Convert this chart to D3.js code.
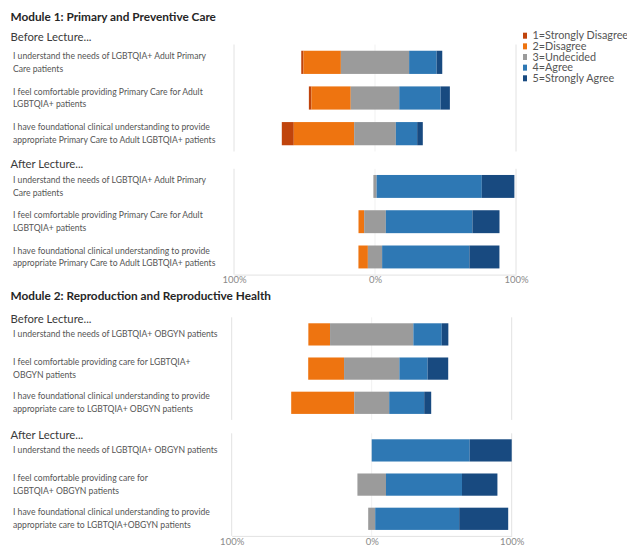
<!DOCTYPE html>
<html>
<head>
<meta charset="utf-8">
<script src="https://cdn.jsdelivr.net/npm/d3@7"></script>
<style>
  html, body { margin: 0; padding: 0; background: #fff; }
  svg { display: block; }
  text { font-family: "Lato", "Open Sans", sans-serif; }
</style>
</head>
<body>
<svg id="chart" width="627" height="546"></svg>
<script>
// ---------- DATA ----------
const levels = ["1=Strongly Disagree", "2=Disagree", "3=Undecided", "4=Agree", "5=Strongly Agree"];
const levelColors = ["#C0440C", "#EE7410", "#9B9B9B", "#2E78B4", "#184A80"];
const axisTicks = [-100, 0, 100];

const moduleTitles = ["Module 1: Primary and Preventive Care", "Module 2: Reproduction and Reproductive Health"];
const phaseTitles = ["Before Lecture...", "After Lecture..."];

const m1BeforeQuestions = [
  ["I understand the needs of LGBTQIA+ Adult Primary", "Care patients"],
  ["I feel comfortable providing Primary Care for Adult", "LGBTQIA+ patients"],
  ["I have foundational clinical understanding to provide", "appropriate Primary Care to Adult LGBTQIA+ patients"]
];
const m1AfterQuestions = m1BeforeQuestions;
const m2BeforeQuestions = [
  ["I understand the needs of LGBTQIA+ OBGYN patients"],
  ["I feel comfortable providing care for LGBTQIA+", "OBGYN patients"],
  ["I have foundational clinical understanding to provide", "appropriate care to LGBTQIA+ OBGYN patients"]
];
const m2AfterQuestions = [
  ["I understand the needs of LGBTQIA+ OBGYN patients"],
  ["I feel comfortable providing care for", "LGBTQIA+ OBGYN patients"],
  ["I have foundational clinical understanding to provide", "appropriate care to LGBTQIA+OBGYN patients"]
];

// percentages: [Strongly Disagree, Disagree, Undecided, Agree, Strongly Agree]
const m1Before = [
  [1.6, 26.5, 48.4, 19.5, 4.0],
  [1.8, 27.9, 34.4, 29.3, 6.6],
  [8.5, 42.8, 29.6, 15.1, 4.0]
];
const m1After = [
  [0, 0, 2.3, 74.6, 23.1],
  [0, 4.0, 15.4, 61.4, 19.2],
  [0, 6.7, 10.1, 61.9, 21.3]
];
const m2Before = [
  [0, 15.5, 59.5, 20.3, 4.7],
  [0, 25.6, 39.5, 20.2, 14.7],
  [0, 45.0, 25.0, 25.0, 5.0]
];
const m2After = [
  [0, 0, 0, 70.0, 30.0],
  [0, 0, 20.4, 54.3, 25.3],
  [0, 0, 5.0, 60.0, 35.0]
];

// ---------- DRAW ----------
const svg = d3.select("#chart");
svg.append("rect").attr("width", 627).attr("height", 546).attr("fill", "#fff");

const panels = [
  { values: m1Before, questions: m1BeforeQuestions, xr: [234, 516], yr: [44.5, 151.5], axis: false },
  { values: m1After,  questions: m1AfterQuestions,  xr: [234, 516], yr: [168.8, 274.6], axis: true },
  { values: m2Before, questions: m2BeforeQuestions, xr: [231.7, 511.7], yr: [317.3, 419.9], axis: false },
  { values: m2After,  questions: m2AfterQuestions,  xr: [231.7, 511.7], yr: [433.3, 535.9], axis: true }
];

// headings
const headings = [
  { text: moduleTitles[0], y: 20.5, bold: true },
  { text: phaseTitles[0], y: 41.3, bold: false },
  { text: phaseTitles[1], y: 168.3, bold: false },
  { text: moduleTitles[1], y: 299.5, bold: true },
  { text: phaseTitles[0], y: 322.7, bold: false },
  { text: phaseTitles[1], y: 438.5, bold: false }
];
svg.selectAll("text.heading").data(headings).join("text")
  .attr("class", "heading")
  .attr("x", 10.5)
  .attr("y", d => d.y)
  .attr("fill", d => d.bold ? "#262626" : "#3a3a3a")
  .attr("font-weight", d => d.bold ? 700 : 400)
  .attr("font-size", d => d.bold ? "11.8px" : "11.3px")
  .text(d => d.text);

panels.forEach(p => {
  const g = svg.append("g");
  const x = d3.scaleLinear().domain([-100, 100]).range(p.xr);
  const y = d3.scaleBand().domain(d3.range(p.values.length)).range(p.yr)
    .paddingInner(0.35).paddingOuter(0.175);

  // gridlines
  g.selectAll("line.grid").data(axisTicks).join("line")
    .attr("class", "grid")
    .attr("x1", d => x(d)).attr("x2", d => x(d))
    .attr("y1", p.yr[0]).attr("y2", p.yr[1])
    .attr("stroke", d => d === 0 ? "#f1f1f1" : "#e2e2e2")
    .attr("stroke-width", 1);

  // segments
  const segs = [];
  p.values.forEach((row, i) => {
    let start = -(row[0] + row[1] + row[2] / 2);
    row.forEach((v, k) => {
      if (v > 0) segs.push({ i, k, x0: start, x1: start + v });
      start += v;
    });
  });
  g.selectAll("rect.seg").data(segs).join("rect")
    .attr("class", "seg")
    .attr("x", d => x(d.x0))
    .attr("width", d => x(d.x1) - x(d.x0))
    .attr("y", d => y(d.i))
    .attr("height", y.bandwidth())
    .attr("fill", d => levelColors[d.k]);

  // question labels
  const lh = 12.8;
  const lab = g.selectAll("text.q").data(p.questions).join("text")
    .attr("class", "q")
    .attr("font-size", "8.6px")
    .attr("fill", "#555");
  lab.each(function(lines, i) {
    const cy = y(i) + y.bandwidth() / 2;
    const y0 = cy - (lines.length - 1) * lh / 2;
    d3.select(this).selectAll("tspan").data(lines).join("tspan")
      .attr("x", 13)
      .attr("y", (l, j) => y0 + j * lh)
      .attr("dy", "0.35em")
      .text(l => l);
  });

  if (p.axis) {
    const ax = g.append("g")
      .attr("transform", `translate(0,${p.yr[1]})`)
      .call(d3.axisBottom(x).tickValues(axisTicks).tickSize(0).tickPadding(2)
        .tickFormat(d => Math.abs(d) + "%"));
    ax.select(".domain").attr("stroke", "#e2e2e2");
    ax.selectAll("text").attr("fill", "#8a8a8a").attr("font-size", "9.5px")
      .attr("font-family", "Lato, 'Open Sans', sans-serif");
  }
});

// legend
const lg = svg.append("g");
const ly = d3.scaleLinear().domain([0, 4]).range([35.7, 78.3]);
lg.selectAll("rect").data(levels).join("rect")
  .attr("x", 523).attr("width", 4)
  .attr("y", (d, i) => ly(i) - 3).attr("height", 6)
  .attr("fill", (d, i) => levelColors[i]);
lg.selectAll("text").data(levels).join("text")
  .attr("x", 532.5).attr("y", (d, i) => ly(i)).attr("dy", "0.35em")
  .attr("font-size", "10.8px").attr("fill", "#555")
  .text(d => d);
</script>
</body>
</html>
